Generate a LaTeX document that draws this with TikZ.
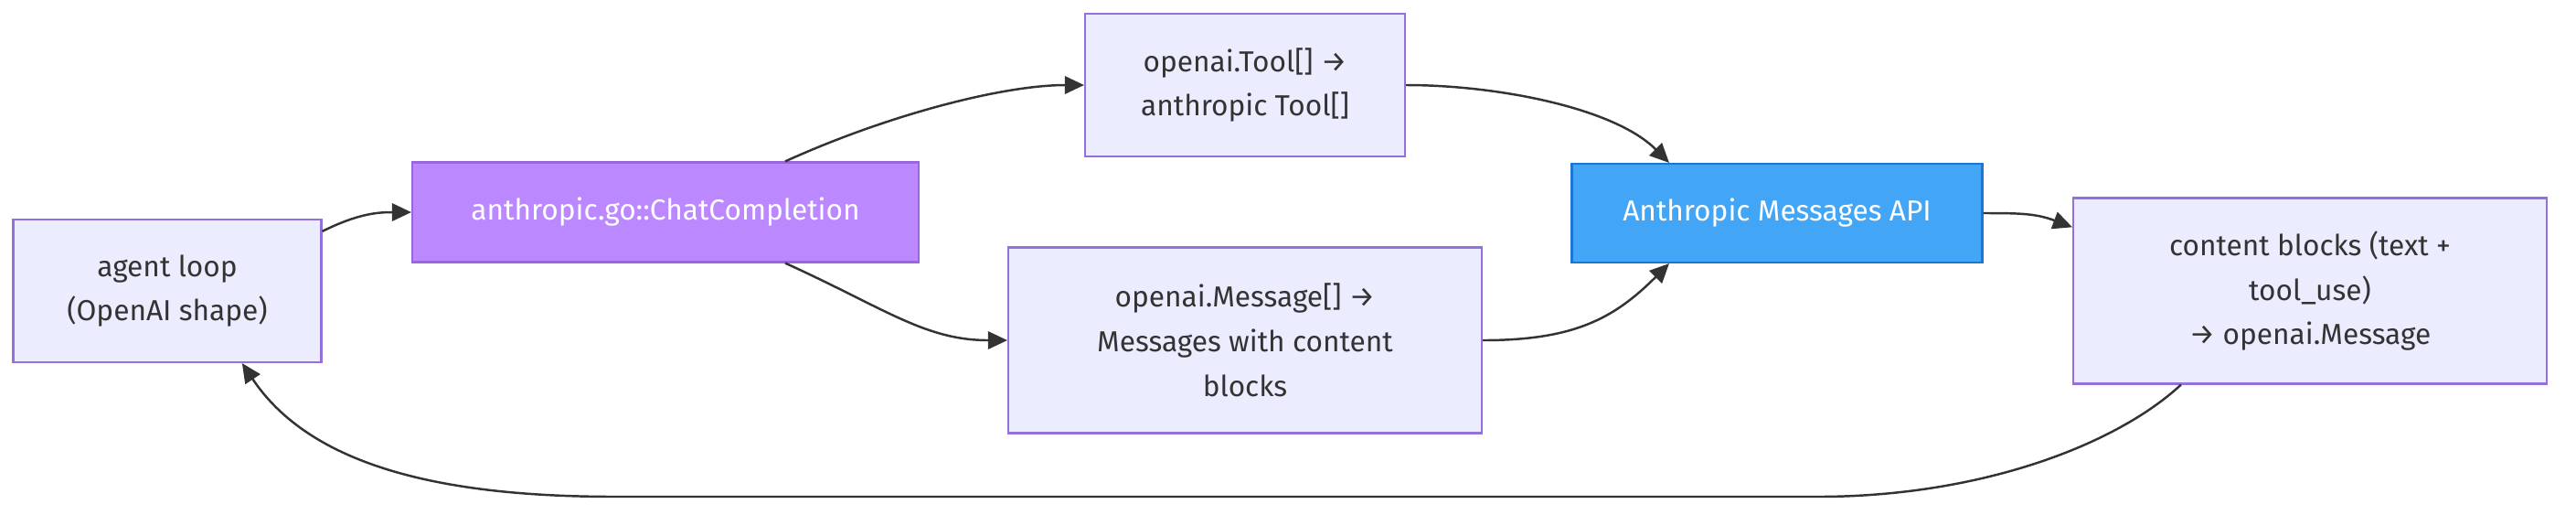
\documentclass[tikz,border=0pt]{standalone}
\usepackage{fontspec}
\setmainfont{Fira Sans}
\usepackage{tikz}
\usetikzlibrary{arrows.meta, positioning}
\definecolor{boxfill}{HTML}{ECECFF}
\definecolor{boxline}{HTML}{9370DB}
\definecolor{chatfill}{HTML}{BB88FF}
\definecolor{chatline}{HTML}{9966DD}
\definecolor{apifill}{HTML}{42A5F5}
\definecolor{apiline}{HTML}{1976D2}
\definecolor{edgegray}{HTML}{333333}

\begin{document}
\begin{tikzpicture}[
    every node/.style={font=\fontsize{9}{13.9}\selectfont, align=center, inner sep=0pt},
    plainbox/.style={draw=boxline, fill=boxfill, line width=0.6pt, text=edgegray},
    chatbox/.style={draw=chatline, fill=chatfill, line width=0.6pt, text=white},
    apibox/.style={draw=apiline, fill=apifill, line width=0.6pt, text=white},
    flow/.style={-{Triangle[length=6pt, width=5.5pt]}, line width=0.7pt, edgegray},
]
    \useasboundingbox (0, 0) rectangle (28.18, -5.62);

    % boxes
    \node[plainbox, minimum width=3.37cm, minimum height=1.56cm] (agent) at (1.83, -3.18)
        {agent loop\\(OpenAI shape)};
    \node[chatbox, minimum width=5.54cm, minimum height=1.09cm] (chat) at (7.28, -2.32)
        {anthropic.go::ChatCompletion};
    \node[plainbox, minimum width=3.50cm, minimum height=1.56cm] (tools) at (13.62, -0.93)
        {openai.Tool[] →\\anthropic Tool[]};
    \node[plainbox, minimum width=5.18cm, minimum height=2.03cm] (msgs) at (13.62, -3.72)
        {openai.Message[] →\\Messages with content\\blocks};
    \node[apibox, minimum width=4.49cm, minimum height=1.08cm] (api) at (19.44, -2.33)
        {Anthropic Messages API};
    \node[plainbox, minimum width=5.18cm, minimum height=2.03cm] (blocks) at (25.27, -3.18)
        {content blocks (text +\\tool\_use)\\→ openai.Message};

    % forward path
    \draw[flow] (agent.21) .. controls +(0.4, 0.2) and +(-0.35, 0) .. (chat.west);
    \draw[flow] (chat.23) .. controls +(1.1, 0.5) and +(-0.9, 0) .. (tools.west);
    \draw[flow] (chat.-23) .. controls +(1.1, -0.5) and +(-0.9, 0) .. (msgs.west);
    \draw[flow] (tools.east) .. controls +(1.0, 0) and +(-0.6, 0.6) .. (api.155);
    \draw[flow] (msgs.east) .. controls +(1.0, 0) and +(-0.6, -0.6) .. (api.-155);
    \draw[flow] (api.east) .. controls +(0.4, 0) and +(-0.4, 0.15) .. (blocks.165);

    % back to the loop
    \coordinate (loopR) at (19.88, -5.43);
    \coordinate (loopL) at (6.74, -5.43);
    \draw[flow] (blocks.216) .. controls +(-0.7, -0.65) and +(1.8, 0) .. (loopR)
        -- (loopL) .. controls +(-1.7, 0) and +(0.8, -1.2) .. (agent.-44);
\end{tikzpicture}
\end{document}
